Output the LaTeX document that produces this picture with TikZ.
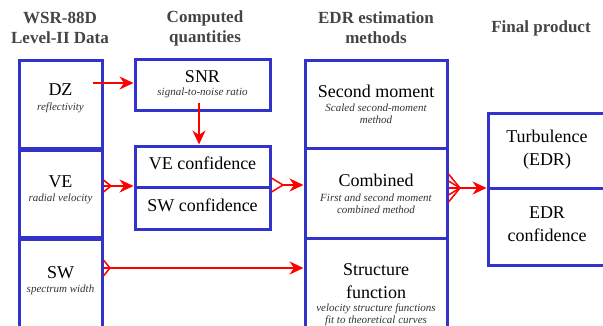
\documentclass[tikz,border=0pt]{standalone}
\usepackage{fontspec}
\setmainfont{LiberationSerif}[
  Extension=.ttf,
  UprightFont=*-Regular,
  BoldFont=*-Bold,
  ItalicFont=*-Italic,
  BoldItalicFont=*-BoldItalic]
\usepackage{tikz}
\usetikzlibrary{arrows.meta,calc}
\usepackage{xcolor}
\definecolor{boxblue}{HTML}{3333CC}
\definecolor{headgray}{HTML}{444444}
\definecolor{notegray}{HTML}{333333}

\tikzset{
  cell/.style={draw=boxblue, line width=3pt, inner sep=0pt},
  celltext/.style={font=\fontsize{18}{23}\selectfont, align=center, inner sep=0pt},
  note/.style={font=\fontsize{11}{12.5}\selectfont\itshape, text=notegray, align=center, inner sep=0pt},
  head/.style={font=\fontsize{17}{20}\selectfont\bfseries, text=headgray, align=center, inner sep=0pt},
  flow/.style={red, line width=2pt, -{Stealth[length=14pt,width=13pt]}},
  feed/.style={red, line width=1.5pt},
}

\begin{document}
\begin{tikzpicture}[x=1pt, y=-1pt]
    \useasboundingbox (0,0) rectangle (603,325);
    \clip (0,0) rectangle (603,325);

    % Column headers
    \node[head] (h-data) at (60,28) {WSR-88D\\Level-II Data};
    \node[head] (h-comp) at (205,28) {Computed\\quantities};
    \node[head] (h-edr) at (376,28) {EDR estimation\\methods};
    \node[head] (h-final) at (541,28) {Final product};

    % Level-II moments
    \node[cell, minimum width=83pt, minimum height=88pt] (dz) at (60.5,104) {};
    \node[cell, minimum width=83pt, minimum height=87pt] (ve) at (60.5,193.5) {};
    \node[cell, minimum width=83pt, minimum height=89pt] (sw) at (60.5,283.5) {};
    \node[celltext] (dz-t) at (60.5,90) {DZ};
    \node[note] (dz-n) at (60.5,108) {reflectivity};
    \node[celltext] (ve-t) at (60.5,182) {VE};
    \node[note] (ve-n) at (60.5,199) {radial velocity};
    \node[celltext] (sw-t) at (60.5,273) {SW};
    \node[note] (sw-n) at (60.5,290) {spectrum width};

    % Computed quantities
    \node[cell, minimum width=135pt, minimum height=51pt] (snr) at (202.5,84.5) {};
    \node[cell, minimum width=135pt, minimum height=41.5pt] (vec) at (202.5,166.75) {};
    \node[cell, minimum width=135pt, minimum height=41.5pt] (swc) at (202.5,208.25) {};
    \node[celltext] (snr-t) at (202.5,77) {SNR};
    \node[note] (snr-n) at (202.5,93) {signal-to-noise ratio};
    \node[celltext] (vec-t) at (202.5,163) {VE confidence};
    \node[celltext] (swc-t) at (202.5,205) {SW confidence};

    % EDR estimation methods
    \node[cell, minimum width=142pt, minimum height=88pt] (sm) at (376,104) {};
    \node[cell, minimum width=142pt, minimum height=90pt] (comb) at (376,193) {};
    \node[cell, minimum width=142pt, minimum height=89pt] (sf) at (376,282.5) {};
    \node[celltext] (sm-t) at (376,91) {Second moment};
    \node[note] (sm-n) at (376,113.5) {Scaled second-moment\\method};
    \node[celltext] (comb-t) at (376,180) {Combined};
    \node[note] (comb-n) at (376,203.5) {First and second moment\\combined method};
    \node[celltext] (sf-t) at (376,281) {Structure\\function};
    \node[note] (sf-n) at (376,315) {velocity structure functions\\fit to theoretical curves};

    % Final product
    \node[cell, minimum width=118pt, minimum height=75pt] (turb) at (547,150.5) {};
    \node[cell, minimum width=118pt, minimum height=77pt] (edrc) at (547,226.5) {};
    \node[celltext] (turb-t) at (547,150) {Turbulence\\(EDR)};
    \node[celltext] (edrc-t) at (547,224.5) {EDR\\confidence};

    % Flow arrows
    \coordinate (dz-o) at (93,83);
    \draw[flow] (dz-o) -- (dz-o -| snr.west);
    \coordinate (snr-o) at (199,103);
    \draw[flow] (snr-o) -- (snr-o |- vec.north);

    % Fan-ins from the cell edges
    \coordinate (ve-m) at (111,186);
    \foreach \d in {-6,0,6}
      \draw[feed] ($(ve-m -| ve.east)+(0,\d)$) -- (ve-m);
    \draw[flow] (ve-m) -- (ve-m -| vec.west);

    \coordinate (cf-m) at (283,185);
    \foreach \d in {-7,7}
      \draw[feed] ($(cf-m -| vec.east)+(0,\d)$) -- (cf-m);
    \draw[flow] (cf-m) -- (cf-m -| comb.west);

    \coordinate (sw-m) at (110,268);
    \foreach \d in {-8,0,8}
      \draw[feed] ($(sw-m -| sw.east)+(0,\d)$) -- (sw-m);
    \draw[flow] (sw-m) -- (sw-m -| sf.west);

    \coordinate (comb-m) at (460,188);
    \foreach \d in {-14,-7,0,7,14}
      \draw[feed] ($(comb-m -| comb.east)+(0,\d)$) -- (comb-m);
    \draw[flow] (comb-m) -- (comb-m -| turb.west);
\end{tikzpicture}
\end{document}
